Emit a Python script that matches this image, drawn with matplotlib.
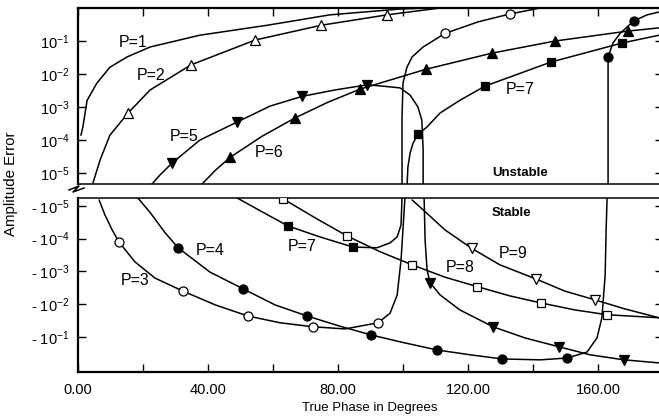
import matplotlib
matplotlib.use("Agg")
import matplotlib.pyplot as plt
from matplotlib.lines import Line2D
from matplotlib.ticker import FixedLocator, NullLocator, FixedFormatter

plt.rcParams['font.family'] = ['Liberation Sans', 'DejaVu Sans']
plt.rcParams['mathtext.fontset'] = 'custom'
plt.rcParams['mathtext.rm'] = 'Liberation Sans'
plt.rcParams['mathtext.it'] = 'Liberation Sans:italic'
plt.rcParams['mathtext.bf'] = 'Liberation Sans:bold'
plt.rcParams['mathtext.default'] = 'regular'

# ---------------- data (true phase in degrees, amplitude error) ----------------
# Unstable region (positive amplitude error)
p1_x = [0.9, 1.5, 2.8, 5.8, 9.8, 15.1, 22.2, 37.5, 58.2, 77.5, 99.1, 108]
p1_y = [1.4e-4, 2.5e-4, 1.6e-3, 5.3e-3, 1.6e-2, 3.3e-2, 6.6e-2, 0.15, 0.30, 0.62, 0.93, 1.0]

p2_x = [4.6, 6.8, 9.8, 15.4, 22.2, 34.8, 54.5, 74.8, 95.1, 111.4]
p2_y = [5.0e-6, 2.5e-5, 1.4e-4, 6.6e-4, 3.3e-3, 1.9e-2, 0.107, 0.30, 0.62, 1.0]
p2_mk = [3, 5, 6, 7, 8]

p3u_x = [99.7, 99.7, 100.0, 101.2, 102.8, 106.2, 112.9, 123.1, 132.9, 142.2]
p3u_y = [3e-6, 5.0e-4, 5.3e-3, 1.6e-2, 3.3e-2, 6.6e-2, 0.17, 0.38, 0.66, 1.0]
p3u_mk = [6, 8]

p4u_x = [163.1, 163.1, 163.1, 164.6, 166.8, 169.2, 171.1, 175.1, 178.8]
p4u_y = [3e-6, 1.6e-3, 3.3e-2, 8.7e-2, 0.17, 0.28, 0.41, 0.62, 0.76]
p4u_mk = [2, 6]

p5u_x = [22.8, 25.2, 28.9, 37.5, 48.9, 59.1, 68.9, 79.1, 88.9, 93.8, 99.1, 102.2, 104.6, 105.8, 106.2, 106.2]
p5u_y = [4.7e-6, 8.7e-6, 2.0e-5, 1.0e-4, 3.5e-4, 1.07e-3, 2.1e-3, 3.3e-3, 4.7e-3, 4.3e-3, 3.8e-3,
         2.3e-3, 1.0e-3, 4.0e-4, 5.0e-5, 3e-6]
p5u_mk = [2, 4, 6, 8]

p6_x = [38.2, 42.2, 46.8, 56.6, 66.8, 76.9, 86.8, 107.1, 127.4, 146.8, 169.2, 178.8]
p6_y = [4.7e-6, 1.2e-5, 3.0e-5, 1.3e-4, 4.7e-4, 1.4e-3, 3.5e-3, 1.4e-2, 4.3e-2, 0.10, 0.20, 0.25]
p6_mk = [2, 4, 6, 7, 8, 9, 10]

p7u_x = [101.2, 101.5, 102.2, 103.1, 104.6, 107.4, 111.4, 117.5, 125.2, 145.5, 167.4, 178.8]
p7u_y = [3e-6, 1.5e-5, 4.1e-5, 8.1e-5, 1.5e-4, 2.5e-4, 6.6e-4, 1.6e-3, 4.3e-3, 2.3e-2, 8.7e-2, 0.15]
p7u_mk = [4, 8, 9, 10]

# Stable region (negative amplitude error; magnitudes)
p3s_x = [6.5, 8.3, 10.5, 12.6, 17.5, 23.7, 32.3, 42.2, 52.3, 62.2, 72.3, 82.2, 92.3, 96.0, 98.2, 99.4, 100.6]
p3s_y = [6.6e-6, 1.9e-5, 5.4e-5, 1.26e-4, 5.1e-4, 1.6e-3, 4.0e-3, 1.05e-2, 2.3e-2, 3.7e-2, 4.9e-2,
         5.7e-2, 3.7e-2, 1.9e-2, 5.3e-3, 4.5e-4, 5.7e-6]
p3s_mk = [3, 6, 8, 10, 12]

p4s_x = [18.2, 22.2, 26.8, 30.8, 40.6, 50.8, 60.6, 70.5, 80.3, 90.2, 100.3, 110.5, 120.6, 130.5,
         142.2, 150.5, 156.6, 159.7, 161.2, 162.2, 162.5, 162.8]
p4s_y = [5.4e-6, 1.6e-5, 6.6e-5, 1.9e-4, 1.05e-3, 3.4e-3, 1.05e-2, 2.3e-2, 4.6e-2, 8.7e-2, 0.15,
         0.25, 0.35, 0.47, 0.50, 0.44, 0.29, 0.107, 2.6e-2, 1.3e-3, 5.4e-5, 5.7e-6]
p4s_mk = [3, 5, 7, 9, 11, 13, 15]

p5s_x = [106.5, 106.8, 107.4, 108.3, 111.4, 117.5, 127.7, 137.5, 148.0, 157.5, 168.0, 178.8]
p5s_y = [5.7e-6, 1.1e-4, 8.9e-4, 2.2e-3, 5.2e-3, 1.5e-2, 4.9e-2, 0.107, 0.20, 0.35, 0.50, 0.62]
p5s_mk = [3, 6, 8, 10]

p7s_x = [48.9, 56.0, 64.6, 74.5, 84.6, 88.0, 92.0, 96.0, 98.2, 99.4, 99.7]
p7s_y = [5.7e-6, 1.4e-5, 4.1e-5, 8.9e-5, 1.8e-4, 1.85e-4, 1.9e-4, 1.35e-4, 8.9e-5, 3.8e-5, 5.7e-6]
p7s_mk = [2, 4]

p8_x = [63.1, 72.9, 82.8, 92.9, 102.8, 112.9, 122.8, 132.9, 142.5, 152.9, 162.8, 178.8]
p8_y = [6.1e-6, 2.3e-5, 8.3e-5, 2.5e-4, 6.3e-4, 1.5e-3, 2.9e-3, 5.6e-3, 9.2e-3, 1.5e-2, 2.1e-2, 2.6e-2]
p8_mk = [0, 2, 4, 6, 8, 10]

p9_x = [102.8, 106.8, 112.9, 121.2, 129.8, 140.9, 149.8, 159.1, 168.3, 178.8]
p9_y = [6.6e-6, 1.5e-5, 5.4e-5, 2.0e-4, 6.3e-4, 1.7e-3, 4.0e-3, 7.4e-3, 1.4e-2, 2.6e-2]
p9_mk = [3, 5, 7]

x_ticks = [0, 20, 40, 60, 80, 100, 120, 140, 160]
x_tick_labels = ['0.00', '', '40.00', '', '80.00', '', '120.00', '', '160.00']
top_ticks = [1e-5, 1e-4, 1e-3, 1e-2, 1e-1]
top_tick_labels = [r'$10^{-5}$', r'$10^{-4}$', r'$10^{-3}$', r'$10^{-2}$', r'$10^{-1}$']
bot_ticks = [1e-5, 1e-4, 1e-3, 1e-2, 1e-1]
bot_tick_labels = [r'- $10^{-5}$', r'- $10^{-4}$', r'- $10^{-3}$', r'- $10^{-2}$', r'- $10^{-1}$']

# ---------------- figure ----------------
W, H = 659, 419
fig = plt.figure(figsize=(W / 100, H / 100), dpi=100)
left_px, right_px = 78, 663
ax_t = fig.add_axes([left_px / W, 1 - 184 / H, (right_px - left_px) / W, (184 - 8) / H])
ax_b = fig.add_axes([left_px / W, 1 - 372 / H, (right_px - left_px) / W, (372 - 198) / H])

for ax in (ax_t, ax_b):
    ax.set_yscale('log')
    ax.set_xlim(0, 180)
    ax.set_facecolor('white')
    for s in ax.spines.values():
        s.set_linewidth(1.1)
    ax.spines['left'].set_linewidth(1.6)
    ax.yaxis.set_minor_locator(NullLocator())
    ax.xaxis.set_minor_locator(NullLocator())
    ax.tick_params(axis='y', which='major', direction='in', length=6, width=1.0,
                   left=True, right=True, labelsize=10.5, pad=6)
    ax.set_xticks(x_ticks)

ax_t.set_ylim(10 ** -5.33, 1.0)
ax_t.yaxis.set_major_locator(FixedLocator(top_ticks))
ax_t.yaxis.set_major_formatter(FixedFormatter(top_tick_labels))
ax_t.spines['top'].set_linewidth(1.6)
ax_t.tick_params(axis='x', direction='in', length=6, width=1.0, top=True, bottom=False,
                 labelbottom=False, labeltop=False)

ax_b.set_ylim(10 ** 0.07, 10 ** -5.24)
ax_b.yaxis.set_major_locator(FixedLocator(bot_ticks))
ax_b.yaxis.set_major_formatter(FixedFormatter(bot_tick_labels))
ax_b.spines['bottom'].set_linewidth(1.6)
ax_b.set_xticklabels(x_tick_labels)
ax_b.tick_params(axis='x', direction='in', length=6, width=1.0, top=False, bottom=True,
                 labelsize=10.5, pad=8)


def draw(ax, x, y, marker=None, filled=True, mk=None, ms=6.5):
    ax.plot(x, y, color='black', lw=1.1, zorder=2, solid_capstyle='round')
    if marker is not None:
        mx = [x[i] for i in mk]
        my = [y[i] for i in mk]
        ax.plot(mx, my, linestyle='none', marker=marker, ms=ms, mec='black', mew=0.9,
                mfc='black' if filled else 'white', zorder=3)


draw(ax_t, p1_x, p1_y)
draw(ax_t, p2_x, p2_y, '^', False, p2_mk)
draw(ax_t, p3u_x, p3u_y, 'o', False, p3u_mk)
draw(ax_t, p4u_x, p4u_y, 'o', True, p4u_mk)
draw(ax_t, p5u_x, p5u_y, 'v', True, p5u_mk)
draw(ax_t, p6_x, p6_y, '^', True, p6_mk)
draw(ax_t, p7u_x, p7u_y, 's', True, p7u_mk, ms=5.8)

draw(ax_b, p3s_x, p3s_y, 'o', False, p3s_mk)
draw(ax_b, p4s_x, p4s_y, 'o', True, p4s_mk)
draw(ax_b, p5s_x, p5s_y, 'v', True, p5s_mk)
draw(ax_b, p7s_x, p7s_y, 's', True, p7s_mk, ms=5.8)
draw(ax_b, p8_x, p8_y, 's', False, p8_mk, ms=5.8)
draw(ax_b, p9_x, p9_y, 'v', False, p9_mk)

lab = dict(ha='center', va='center', fontsize=11.5, zorder=4)
ax_t.text(16.9, 0.093, 'P=1', **lab)
ax_t.text(22.5, 9.3e-3, 'P=2', **lab)
ax_t.text(32.6, 1.3e-4, 'P=5', **lab)
ax_t.text(58.8, 4.1e-5, 'P=6', **lab)
ax_t.text(136.0, 3.5e-3, 'P=7', **lab)
ax_t.text(136.0, 1.0e-5, 'Unstable', ha='center', va='center', fontsize=9.5, fontweight='bold')
ax_b.text(133.5, 1.6e-5, 'Stable', ha='center', va='center', fontsize=9.5, fontweight='bold')
ax_b.text(133.8, 2.9e-4, 'P=9', **lab)
ax_b.text(117.5, 7.7e-4, 'P=8', **lab)
ax_b.text(40.6, 2.3e-4, 'P=4', **lab)
ax_b.text(68.9, 1.8e-4, 'P=7', **lab)
ax_b.text(17.5, 1.9e-3, 'P=3', **lab)

fig.text(370 / W, 1 - 408 / H, 'True Phase in Degrees', ha='center', va='center', fontsize=9.5)
fig.text(11 / W, 1 - 184 / H, 'Amplitude Error', ha='center', va='center', rotation=90, fontsize=10.8)

# axis break symbol between the two panels
zx = [69, 79, 73, 84]
zy = [190, 186, 192, 188]
fig.add_artist(Line2D([v / W for v in zx], [1 - v / H for v in zy], color='black', lw=1.1,
                      transform=fig.transFigure))

fig.savefig('out.png', dpi=100, facecolor='white')
